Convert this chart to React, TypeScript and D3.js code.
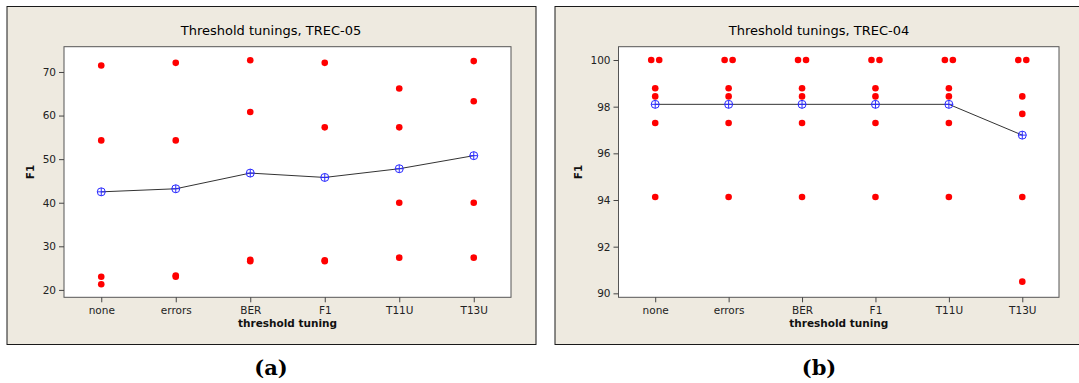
import { useEffect, useRef } from "react";
import * as d3 from "d3";

const CATEGORIES = ["none", "errors", "BER", "F1", "T11U", "T13U"];

// TREC-05: individual F1 values per tuning and their means
const TREC05_VALUES = [
  [71.5, 54.3, 23.0, 21.3],
  [72.1, 54.3, 23.0, 23.3],
  [72.7, 60.8, 26.6, 26.9],
  [72.1, 57.3, 26.6, 26.8],
  [66.2, 57.3, 40.0, 27.4],
  [72.5, 63.3, 40.0, 27.4],
];
const TREC05_MEANS = [42.5, 43.2, 46.8, 45.8, 47.8, 50.8];
const TREC05_TICKS = [20, 30, 40, 50, 60, 70];
const TREC05_DOMAIN = [18.3, 75.8];

// TREC-04
const TREC04_VALUES = [
  [100, 100, 98.79, 98.44, 97.3, 94.13],
  [100, 100, 98.79, 98.44, 97.3, 94.13],
  [100, 100, 98.79, 98.44, 97.3, 94.13],
  [100, 100, 98.79, 98.44, 97.3, 94.13],
  [100, 100, 98.79, 98.44, 97.3, 94.13],
  [100, 100, 98.44, 97.69, 94.13, 90.5],
];
const TREC04_MEANS = [98.1, 98.1, 98.1, 98.1, 98.1, 96.78];
const TREC04_TICKS = [90, 92, 94, 96, 98, 100];
const TREC04_DOMAIN = [89.83, 100.57];

const FONT = "'DejaVu Sans', Verdana, sans-serif";

interface PanelProps {
  x: number;
  title: string;
  caption: string;
  values: number[][];
  means: number[];
  ticks: number[];
  domain: number[];
  marginLeft: number;
}

function Panel({ x, title, caption, values, means, ticks, domain, marginLeft }: PanelProps) {
  const ref = useRef<SVGGElement>(null);

  useEffect(() => {
    if (!ref.current) return;
    const frameW = 529;
    const frameH = 338;
    const margin = { top: 40.7, right: 24.5, bottom: 46.7, left: marginLeft };
    const w = frameW - margin.left - margin.right;
    const h = frameH - margin.top - margin.bottom;

    const root = d3.select(ref.current);
    root.selectAll("*").remove();

    // frame
    root.append("rect")
      .attr("x", 0.5).attr("y", 0.5)
      .attr("width", frameW).attr("height", frameH)
      .attr("fill", "#eeeae0")
      .attr("stroke", "#1a1a1a");

    root.append("text")
      .attr("x", frameW / 2).attr("y", 28.5)
      .attr("text-anchor", "middle")
      .attr("font-family", FONT).attr("font-size", 13)
      .attr("fill", "#000")
      .text(title);

    const g = root.append("g").attr("transform", `translate(${margin.left},${margin.top})`);

    const xs = d3.scalePoint<string>().domain(CATEGORIES).range([0, w]).padding(0.5);
    const ys = d3.scaleLinear().domain(domain).range([h, 0]);

    g.append("rect")
      .attr("x", 0).attr("y", 0).attr("width", w).attr("height", h)
      .attr("fill", "#ffffff").attr("stroke", "#555");

    const yAxis = g.append("g")
      .call(d3.axisLeft(ys).tickValues(ticks).tickSize(5).tickPadding(3).tickFormat(d3.format("d")));
    yAxis.select(".domain").remove();
    yAxis.selectAll("line").attr("stroke", "#444");
    yAxis.selectAll("text").attr("font-family", FONT).attr("font-size", 10.5).attr("fill", "#222");

    const xAxis = g.append("g")
      .attr("transform", `translate(0,${h})`)
      .call(d3.axisBottom(xs).tickSize(5).tickPadding(4));
    xAxis.select(".domain").remove();
    xAxis.selectAll("line").attr("stroke", "#444");
    xAxis.selectAll("text").attr("font-family", FONT).attr("font-size", 10.5).attr("fill", "#222");

    g.append("text")
      .attr("x", w / 2).attr("y", h + 30)
      .attr("text-anchor", "middle")
      .attr("font-family", FONT).attr("font-size", 10.5).attr("font-weight", "bold")
      .attr("fill", "#111")
      .text("threshold tuning");

    g.append("text")
      .attr("transform", `translate(${-margin.left + 27},${h / 2}) rotate(-90)`)
      .attr("text-anchor", "middle")
      .attr("font-family", FONT).attr("font-size", 10.5).attr("font-weight", "bold")
      .attr("fill", "#111")
      .text("F1");

    // individual values, identical values dodged sideways
    values.forEach((vals, ci) => {
      const cx = xs(CATEGORIES[ci])!;
      const counts = d3.rollup(vals, (v) => v.length, (v) => v);
      const seen = new Map<number, number>();
      vals.forEach((v) => {
        const n = counts.get(v)!;
        const k = seen.get(v) || 0;
        seen.set(v, k + 1);
        const dx = (k - (n - 1) / 2) * 8;
        g.append("circle")
          .attr("cx", cx + dx).attr("cy", ys(v))
          .attr("r", 3.3)
          .attr("fill", "#ff0000");
      });
    });

    // mean connect line
    const line = d3.line<number>()
      .x((_, i) => xs(CATEGORIES[i])!)
      .y((d) => ys(d));
    g.append("path")
      .datum(means)
      .attr("d", line)
      .attr("fill", "none")
      .attr("stroke", "#333")
      .attr("stroke-width", 1);

    means.forEach((m, i) => {
      const cx = xs(CATEGORIES[i])!;
      const cy = ys(m);
      const r = 4;
      g.append("circle").attr("cx", cx).attr("cy", cy).attr("r", r)
        .attr("fill", "none").attr("stroke", "#2a2aff").attr("stroke-width", 1);
      g.append("line").attr("x1", cx - r).attr("x2", cx + r).attr("y1", cy).attr("y2", cy)
        .attr("stroke", "#2a2aff").attr("stroke-width", 1);
      g.append("line").attr("x1", cx).attr("x2", cx).attr("y1", cy - r).attr("y2", cy + r)
        .attr("stroke", "#2a2aff").attr("stroke-width", 1);
    });

    root.append("text")
      .attr("x", frameW / 2).attr("y", 369)
      .attr("text-anchor", "middle")
      .attr("font-family", "'DejaVu Serif', serif").attr("font-size", 21).attr("font-weight", "bold")
      .attr("fill", "#000")
      .text(caption);
  }, [title, caption, values, means, ticks, domain, marginLeft]);

  return <g ref={ref} transform={`translate(${x},6)`} />;
}

export default function App() {
  return (
    <svg
      width={1079}
      height={383}
      style={{ position: "absolute", left: 0, top: 0, display: "block", background: "#ffffff" }}
    >
      <Panel
        x={6.5}
        title="Threshold tunings, TREC-05"
        caption="(a)"
        values={TREC05_VALUES}
        means={TREC05_MEANS}
        ticks={TREC05_TICKS}
        domain={TREC05_DOMAIN}
        marginLeft={57.5}
      />
      <Panel
        x={554.5}
        title="Threshold tunings, TREC-04"
        caption="(b)"
        values={TREC04_VALUES}
        means={TREC04_MEANS}
        ticks={TREC04_TICKS}
        domain={TREC04_DOMAIN}
        marginLeft={64}
      />
    </svg>
  );
}
